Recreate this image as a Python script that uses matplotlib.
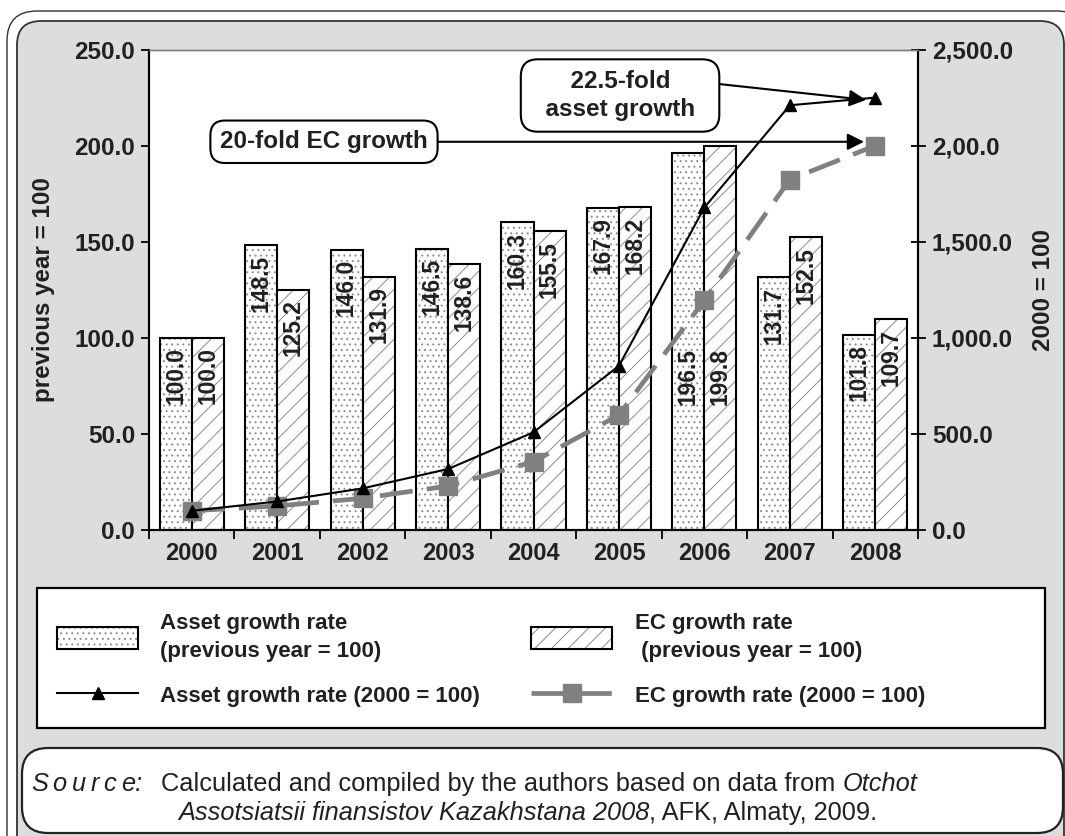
import numpy as np
import matplotlib.pyplot as plt
from matplotlib.patches import FancyBboxPatch, Rectangle

plt.rcParams['font.family'] = ['Liberation Sans', 'DejaVu Sans']
plt.rcParams['hatch.linewidth'] = 0.7

#%% data
years = ['2000', '2001', '2002', '2003', '2004', '2005', '2006', '2007', '2008']
# growth rates, previous year = 100
asset_prev = [100.0, 148.5, 146.0, 146.5, 160.3, 167.9, 196.5, 131.7, 101.8]
ec_prev = [100.0, 125.2, 131.9, 138.6, 155.5, 168.2, 199.8, 152.5, 109.7]
# growth rates, 2000 = 100
asset_base = [100, 148.5, 216.8, 317.6, 509.1, 854.8, 1679.7, 2212.2, 2252.0]
ec_base = [100, 125.2, 165.2, 229.0, 356.1, 598.9, 1196.7, 1825.0, 2002.0]

left_ticks = [0, 50, 100, 150, 200, 250]
right_ticks = [0, 500, 1000, 1500, 2000, 2500]
right_ticklabels = ['0.0', '500.0', '1,000.0', '1,500.0', '2,00.0', '2,500.0']

txt = '#231f20'
W, H = 1065, 836

fig = plt.figure(figsize=(W / 100, H / 100), dpi=100)

#%% background panel (pixel coordinates, y downwards)
bg = fig.add_axes([0, 0, 1, 1], zorder=0)
bg.set_xlim(0, W)
bg.set_ylim(H, 0)
bg.axis('off')

bg.add_patch(FancyBboxPatch((7, 11), 1080, 860, boxstyle='round,pad=0,rounding_size=30',
                            fc='white', ec='#333333', lw=1.0))
bg.add_patch(FancyBboxPatch((17, 21), 1047, 850, boxstyle='round,pad=0,rounding_size=24',
                            fc='#dcdddf', ec='#333333', lw=1.3))
# legend frame
bg.add_patch(Rectangle((37, 588), 1008, 140, fc='white', ec='black', lw=1.6))
# source frame
bg.add_patch(FancyBboxPatch((22, 748), 1041, 85, boxstyle='round,pad=0,rounding_size=26',
                            fc='white', ec='#222222', lw=1.6))

#%% main axes
ax = fig.add_axes([149 / W, 1 - 530 / H, 769 / W, 480 / H], zorder=1)
ax2 = ax.twinx()
ax2.set_zorder(2)
ax2.patch.set_visible(False)

x = np.arange(len(years))
bw = 0.375

# bars: hatch in grey first, black outline on top
a_fill = ax.bar(x - bw / 2, asset_prev, bw, color='white', edgecolor='#8c8c8c', lw=0, hatch='...')
a_edge = ax.bar(x - bw / 2, asset_prev, bw, fill=False, edgecolor='black', lw=1.5)
e_fill = ax.bar(x + bw / 2, ec_prev, bw, color='white', edgecolor='#8c8c8c', lw=0, hatch='//')
e_edge = ax.bar(x + bw / 2, ec_prev, bw, fill=False, edgecolor='black', lw=1.5)

# value labels inside bars (2006 pushed down, below the lines)
label_top_a = [v - 5 for v in asset_prev]
label_top_e = [v - 5 for v in ec_prev]
label_top_a[6] = 95
label_top_e[6] = 95
for i in range(len(years)):
    ax.text(x[i] - bw / 2, label_top_a[i], f'{asset_prev[i]:.1f}', rotation=90,
            ha='center', va='top', fontsize=16.4, fontweight='bold', color=txt)
    ax.text(x[i] + bw / 2, label_top_e[i], f'{ec_prev[i]:.1f}', rotation=90,
            ha='center', va='top', fontsize=16.4, fontweight='bold', color=txt)

# cumulative lines on the right axis
ec_line, = ax2.plot(x, ec_base, color='#808080', lw=3.4, ls=(0, (7, 3)),
                    marker='s', ms=13, mec='#808080', mfc='#808080')
asset_line, = ax2.plot(x, asset_base, color='black', lw=1.5, marker='^', ms=9)

#%% axes styling
ax.set_xlim(-0.5, len(years) - 0.5)
ax.set_ylim(0, 250)
ax2.set_ylim(0, 2500)

ax.set_yticks(left_ticks)
ax.set_yticklabels([f'{t:.1f}' for t in left_ticks])
ax2.set_yticks(right_ticks)
ax2.set_yticklabels(right_ticklabels)

ax.set_xticks(np.arange(-0.5, len(years)), labels=[])
ax.set_xticks(x, labels=years, minor=True)
ax.tick_params(axis='x', which='major', direction='out', length=6.5, width=1.3, color='black')
ax.tick_params(axis='x', which='minor', length=0, pad=9, labelsize=17, labelcolor=txt)
for lab in ax.get_xticklabels(minor=True):
    lab.set_fontweight('bold')

ax.tick_params(axis='y', direction='out', length=5.8, width=1.3, pad=4.2,
               labelsize=17.5, labelcolor=txt)
ax2.tick_params(axis='y', direction='inout', length=10.8, width=1.3, pad=4.6,
                labelsize=17.5, labelcolor=txt)
for lab in ax.get_yticklabels() + ax2.get_yticklabels():
    lab.set_fontweight('bold')

for a in (ax, ax2):
    for side in ('left', 'right', 'bottom'):
        a.spines[side].set_linewidth(1.5)
        a.spines[side].set_color('black')
    a.spines['top'].set_color('#808080')
    a.spines['top'].set_linewidth(1.0)

ax.set_ylabel('previous year = 100', fontsize=17.4, fontweight='bold', color=txt)
ax.yaxis.set_label_coords((43 - 149) / 769, 0.5)
ax.yaxis.label.set_va('center')
ax2.set_ylabel('2000 = 100', fontsize=17.4, fontweight='bold', color=txt)
ax2.yaxis.set_label_coords((1044 - 149) / 769, 0.5)
ax2.yaxis.label.set_va('center')

#%% callouts
box = dict(boxstyle='round,pad=0.4,rounding_size=0.6', fc='white', ec='black', lw=1.5)
ax2.annotate('20-fold EC growth', xy=(7.868, 2022), xytext=(1.548, 2022),
             ha='center', va='center', fontsize=17.5, fontweight='bold', color=txt, bbox=box,
             arrowprops=dict(arrowstyle='-|>', color='black', lw=1.5, mutation_scale=25,
                             shrinkA=0, shrinkB=0, relpos=(1, 0.5)))
ax2.annotate('  22.5-fold  \n  asset growth  ', xy=(7.892, 2240), xytext=(5.013, 2263),
             ha='center', va='center', fontsize=17.5, fontweight='bold', color=txt,
             linespacing=1.25, bbox=dict(box, boxstyle='round,pad=0.45,rounding_size=0.7'),
             arrowprops=dict(arrowstyle='-|>', color='black', lw=1.5, mutation_scale=25,
                             shrinkA=0, shrinkB=0, relpos=(1, 0.75)))

#%% legend
handles = [(a_fill[0], a_edge[0]), asset_line, (e_fill[0], e_edge[0]), ec_line]
labels = ['Asset growth rate\n(previous year = 100)', 'Asset growth rate (2000 = 100)',
          'EC growth rate\n (previous year = 100)', 'EC growth rate (2000 = 100)']
leg = fig.legend(handles, labels, ncol=2, mode='expand', loc='center', frameon=False,
                 bbox_to_anchor=(57 / W, 1 - 660 / H, (925 - 57) / W, 0),
                 borderpad=0, borderaxespad=0, handlelength=3.65, handleheight=1.13,
                 handletextpad=1.0, labelspacing=1.0, numpoints=1,
                 prop=dict(weight='bold', size=16), labelcolor=txt)
for t in leg.get_texts():
    t.set_linespacing(1.45)

#%% source note
src_size = 18.3
# letter-spaced "Source:" heading, one letter at a time
prev = bg.text(31, 796, 'S', style='italic', fontsize=src_size, color=txt, va='bottom')
for ch in ['o', 'u', 'r', 'c', 'e:']:
    prev = bg.annotate(ch, xy=(1, 0), xycoords=prev, xytext=(3.4, 0),
                       textcoords='offset points', style='italic', fontsize=src_size,
                       color=txt, va='bottom')
s2 = bg.text(161, 796, 'Calculated and compiled by the authors based on data from ',
             fontsize=src_size, color=txt, va='bottom')
bg.annotate('Otchot', xy=(1, 0), xycoords=s2, style='italic', fontsize=src_size,
            color=txt, va='bottom')
s3 = bg.text(178, 825, 'Assotsiatsii finansistov Kazakhstana 2008', style='italic',
             fontsize=src_size, color=txt, va='bottom')
bg.annotate(', AFK, Almaty, 2009.', xy=(1, 0), xycoords=s3, fontsize=src_size,
            color=txt, va='bottom')

fig.savefig('out.png', dpi=100)
